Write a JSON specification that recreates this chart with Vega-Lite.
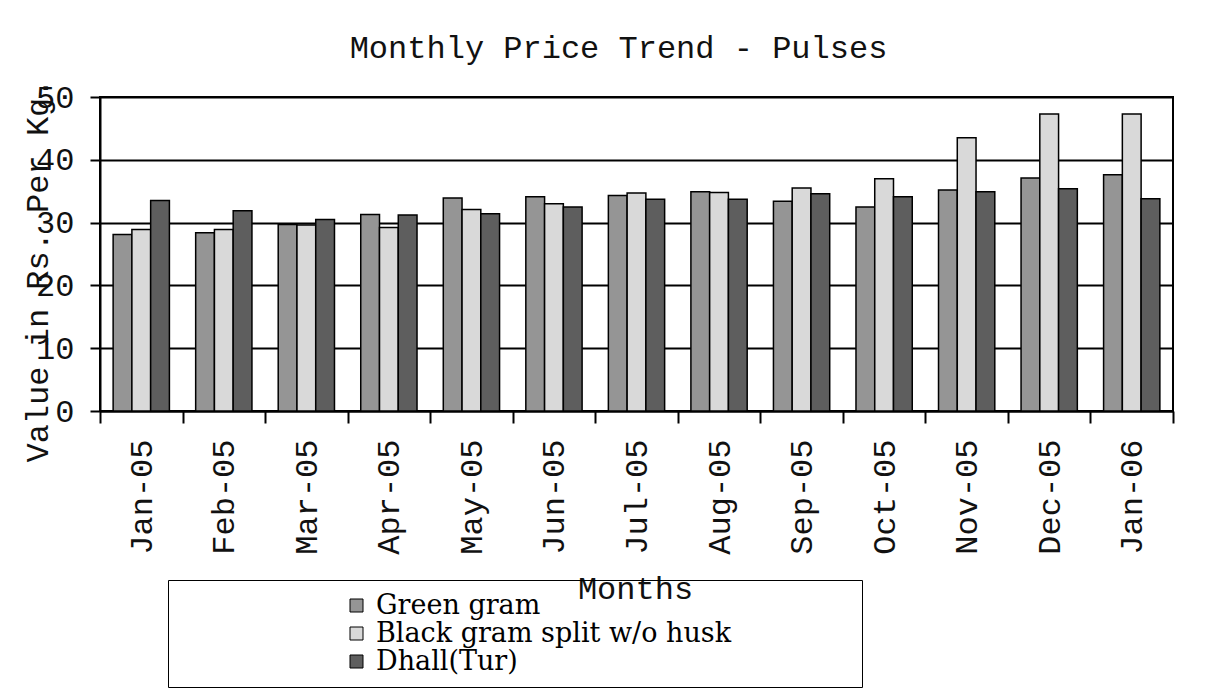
{
  "$schema": "https://vega.github.io/schema/vega-lite/v6.json",
  "width": 1073,
  "height": 314,
  "autosize": {"type": "none"},
  "padding": {"left": 100, "top": 97, "right": 48, "bottom": 288},
  "background": "white",
  "title": {
    "text": "Monthly Price Trend - Pulses",
    "font": "Liberation Mono",
    "fontSize": 32,
    "fontWeight": "normal",
    "color": "#111",
    "offset": 13,
    "dx": -18
  },
  "data": {
    "values": [
      {"month": "Jan-05", "series": "Green gram", "value": 28.1},
      {"month": "Jan-05", "series": "Black gram split w/o husk", "value": 28.9},
      {"month": "Jan-05", "series": "Dhall(Tur)", "value": 33.5},
      {"month": "Feb-05", "series": "Green gram", "value": 28.4},
      {"month": "Feb-05", "series": "Black gram split w/o husk", "value": 28.9},
      {"month": "Feb-05", "series": "Dhall(Tur)", "value": 31.9},
      {"month": "Mar-05", "series": "Green gram", "value": 29.7},
      {"month": "Mar-05", "series": "Black gram split w/o husk", "value": 29.6},
      {"month": "Mar-05", "series": "Dhall(Tur)", "value": 30.5},
      {"month": "Apr-05", "series": "Green gram", "value": 31.3},
      {"month": "Apr-05", "series": "Black gram split w/o husk", "value": 29.2},
      {"month": "Apr-05", "series": "Dhall(Tur)", "value": 31.2},
      {"month": "May-05", "series": "Green gram", "value": 33.9},
      {"month": "May-05", "series": "Black gram split w/o husk", "value": 32.1},
      {"month": "May-05", "series": "Dhall(Tur)", "value": 31.4},
      {"month": "Jun-05", "series": "Green gram", "value": 34.1},
      {"month": "Jun-05", "series": "Black gram split w/o husk", "value": 33.0},
      {"month": "Jun-05", "series": "Dhall(Tur)", "value": 32.5},
      {"month": "Jul-05", "series": "Green gram", "value": 34.3},
      {"month": "Jul-05", "series": "Black gram split w/o husk", "value": 34.7},
      {"month": "Jul-05", "series": "Dhall(Tur)", "value": 33.7},
      {"month": "Aug-05", "series": "Green gram", "value": 34.9},
      {"month": "Aug-05", "series": "Black gram split w/o husk", "value": 34.8},
      {"month": "Aug-05", "series": "Dhall(Tur)", "value": 33.7},
      {"month": "Sep-05", "series": "Green gram", "value": 33.4},
      {"month": "Sep-05", "series": "Black gram split w/o husk", "value": 35.5},
      {"month": "Sep-05", "series": "Dhall(Tur)", "value": 34.6},
      {"month": "Oct-05", "series": "Green gram", "value": 32.5},
      {"month": "Oct-05", "series": "Black gram split w/o husk", "value": 37.0},
      {"month": "Oct-05", "series": "Dhall(Tur)", "value": 34.1},
      {"month": "Nov-05", "series": "Green gram", "value": 35.2},
      {"month": "Nov-05", "series": "Black gram split w/o husk", "value": 43.5},
      {"month": "Nov-05", "series": "Dhall(Tur)", "value": 34.9},
      {"month": "Dec-05", "series": "Green gram", "value": 37.1},
      {"month": "Dec-05", "series": "Black gram split w/o husk", "value": 47.3},
      {"month": "Dec-05", "series": "Dhall(Tur)", "value": 35.4},
      {"month": "Jan-06", "series": "Green gram", "value": 37.6},
      {"month": "Jan-06", "series": "Black gram split w/o husk", "value": 47.3},
      {"month": "Jan-06", "series": "Dhall(Tur)", "value": 33.8}
    ]
  },
  "mark": {"type": "bar", "stroke": "black", "strokeWidth": 1.5},
  "encoding": {
    "x": {
      "field": "month",
      "type": "ordinal",
      "sort": ["Jan-05", "Feb-05", "Mar-05", "Apr-05", "May-05", "Jun-05", "Jul-05", "Aug-05", "Sep-05", "Oct-05", "Nov-05", "Dec-05", "Jan-06"],
      "scale": {"paddingInner": 0, "paddingOuter": 0},
      "axis": {
        "title": "Months",
        "titleFont": "Liberation Mono",
        "titleFontSize": 32,
        "titleFontWeight": "normal",
        "titleColor": "#111",
        "titleX": 535,
        "titleY": 162,
        "titleAlign": "center",
        "titleBaseline": "top",
        "labelAngle": -90,
        "labelFont": "Liberation Mono",
        "labelFontSize": 32,
        "labelColor": "#111",
        "labelPadding": 16,
        "tickBand": "extent",
        "tickSize": 12,
        "tickWidth": 2,
        "tickColor": "black",
        "domainColor": "black",
        "domainWidth": 2,
        "grid": false
      }
    },
    "xOffset": {
      "field": "series",
      "sort": ["Green gram", "Black gram split w/o husk", "Dhall(Tur)"],
      "scale": {"paddingInner": 0, "paddingOuter": 0.7}
    },
    "y": {
      "field": "value",
      "type": "quantitative",
      "scale": {"domain": [0, 50], "nice": false},
      "axis": {
        "title": "Value in Rs. Per Kg.",
        "titleFont": "Liberation Mono",
        "titleFontSize": 32,
        "titleFontWeight": "normal",
        "titleColor": "#111",
        "titleAngle": 270,
        "titleX": -63,
        "titleY": 173,
        "titleAlign": "center",
        "titleBaseline": "middle",
        "values": [0, 10, 20, 30, 40, 50],
        "labelFont": "Liberation Mono",
        "labelFontSize": 32,
        "labelColor": "#111",
        "labelPadding": 16,
        "tickSize": 10,
        "tickWidth": 2,
        "tickColor": "black",
        "domainColor": "black",
        "domainWidth": 2,
        "grid": true,
        "gridColor": "black",
        "gridWidth": 2
      }
    },
    "fill": {
      "field": "series",
      "type": "nominal",
      "scale": {
        "domain": ["Green gram", "Black gram split w/o husk", "Dhall(Tur)"],
        "range": ["#959595", "#d9d9d9", "#5e5e5e"]
      },
      "legend": {
        "orient": "none",
        "legendX": 68,
        "legendY": 483,
        "direction": "vertical",
        "title": "\u00a0",
        "titleOrient": "right",
        "titleFontSize": 2,
        "titlePadding": 119,
        "symbolOffset": 163,
        "padding": 12,
        "strokeColor": "black",
        "symbolType": "square",
        "symbolSize": 169,
        "symbolStrokeColor": "black",
        "symbolStrokeWidth": 1,
        "labelFont": "DejaVu Serif",
        "labelFontSize": 27,
        "labelColor": "black",
        "labelOffset": 6,
        "labelLimit": 0,
        "rowPadding": 0
      }
    }
  },
  "config": {
    "view": {"stroke": "black", "strokeWidth": 2}
  }
}
